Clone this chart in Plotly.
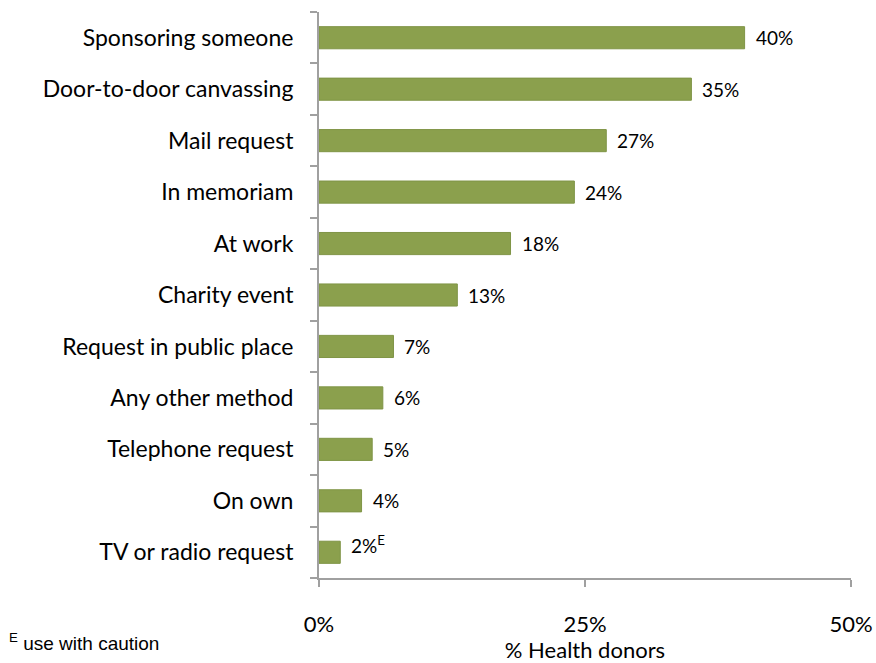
import plotly.graph_objects as go

categories = ["Sponsoring someone", "Door-to-door canvassing", "Mail request", "In memoriam",
              "At work", "Charity event", "Request in public place", "Any other method",
              "Telephone request", "On own", "TV or radio request"]
values = [40, 35, 27, 24, 18, 13, 7, 6, 5, 4, 2]
labels = ["40%", "35%", "27%", "24%", "18%", "13%", "7%", "6%", "5%", "4%", "2%<sup>E</sup>"]
x_ticks = [0, 25, 50]
x_tick_labels = ["0%", "25%", "50%"]

cats = categories[::-1]
vals = values[::-1]
labs = labels[::-1]

BAR = "#8BA04D"
AXIS = "#A0A0A0"
FONT = "Lato, Calibri, Carlito, sans-serif"

fig = go.Figure(go.Bar(
    y=cats, x=vals, orientation="h",
    marker=dict(color=BAR, line=dict(color="#7F9446", width=1)),
    hoverinfo="skip",
))

for c, v, t in zip(cats, vals, labs):
    fig.add_annotation(x=v, y=c, text=t, showarrow=False, xanchor="left",
                       xshift=9, yshift=(8 if "sup" in t else 0),
                       font=dict(family=FONT, size=19, color="#000000"))

fig.add_annotation(x=0, y=0, xref="paper", yref="paper", xanchor="left", yanchor="middle",
                   text="<sup>E</sup> use with caution", showarrow=False,
                   font=dict(family="Liberation Sans, Arial, sans-serif", size=19, color="#000000"),
                   xshift=-312, yshift=-64)

fig.update_layout(
    width=876, height=663,
    margin=dict(l=319, r=25, t=12, b=85),
    plot_bgcolor="white", paper_bgcolor="white",
    bargap=0.57, showlegend=False,
    font=dict(family=FONT, size=22, color="#000000"),
    xaxis=dict(range=[0, 50], tickvals=x_ticks, ticktext=x_tick_labels,
               showgrid=False, zeroline=False, showline=True, linecolor=AXIS, linewidth=2,
               ticks="outside", ticklen=7, tickcolor=AXIS, tickwidth=2,
               ticklabelstandoff=19, tickfont=dict(size=22), automargin=False,
               title=dict(text="% Health donors", font=dict(size=22), standoff=3)),
    yaxis=dict(showgrid=False, zeroline=False, showline=True, linecolor=AXIS, linewidth=2,
               ticks="outside", ticklen=7, tickcolor=AXIS, tickwidth=2, tickson="boundaries",
               ticklabelstandoff=19, tickfont=dict(size=23), automargin=False,
               range=[-0.5, len(cats) - 0.5]),
)

fig.write_html("out.html", config={"displayModeBar": False},
               post_script="document.body.style.margin='0';document.body.style.overflow='hidden';")
